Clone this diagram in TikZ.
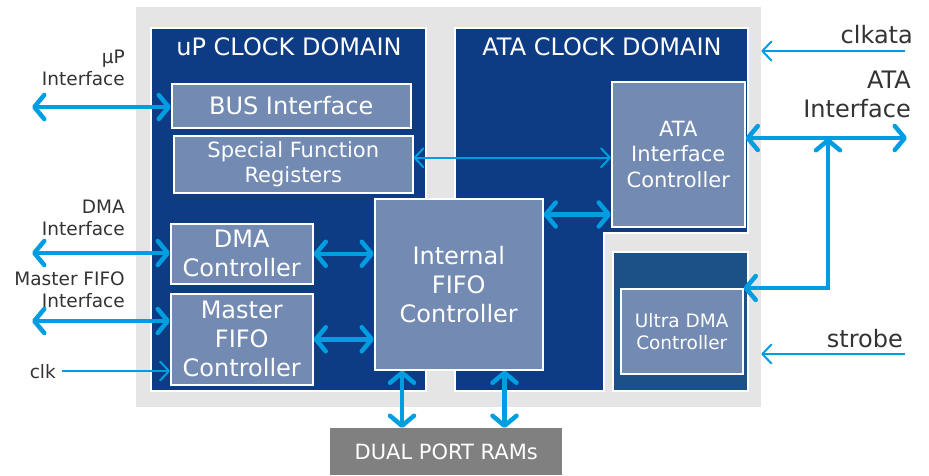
\documentclass[tikz,border=0pt]{standalone}
\usepackage{fontspec}
\setmainfont{DejaVu Sans}
\usepackage{xcolor}
\usetikzlibrary{arrows.meta}
\definecolor{domblue}{RGB}{14,60,132}
\definecolor{udmablue}{RGB}{26,82,136}
\definecolor{blockblue}{RGB}{115,138,178}
\definecolor{wire}{RGB}{0,158,224}
\definecolor{chipgray}{RGB}{229,229,229}
\definecolor{ramgray}{RGB}{128,128,128}
\definecolor{lbltext}{RGB}{51,51,51}
\def\bigfont{\fontsize{24}{29}\selectfont}
\def\midfont{\fontsize{21}{25.5}\selectfont}
\def\smallfont{\fontsize{18.5}{22}\selectfont}
\tikzset{
	dom/.style={draw=white, line width=2pt, fill=domblue},
	block/.style={draw=white, line width=1.5pt, fill=blockblue, text=white, align=center, inner sep=0pt, anchor=north west},
	domtitle/.style={text=white, font=\bigfont, inner sep=0pt, anchor=base},
	lbl/.style={text=lbltext, font=\smallfont, inner sep=0pt, anchor=base east, align=right},
	fat/.style={draw=wire, line width=4.5pt, >={Straight Barb[length=10pt,width=24pt,round]}},
	slim/.style={draw=wire, line width=2pt, >={Straight Barb[length=9pt,width=19pt,round]}}
}
\begin{document}
\begin{tikzpicture}[x=1pt, y=-1pt]
	\useasboundingbox (0,0) rectangle (929,475);
	\node[fill=chipgray, inner sep=0pt, minimum width=625pt, minimum height=400pt, anchor=north west] (chip) at (136,7) {};
	\draw[dom] (151,28) rectangle (426,391);
	\draw[dom] (455,28) -- (748,28) -- (748,233) -- (604,233) -- (604,391) -- (455,391) -- cycle;
	\draw[dom, fill=udmablue] (613,252) rectangle (748,391);
	\node[domtitle] (uptitle) at (289,55) {uP CLOCK DOMAIN};
	\node[domtitle] (atatitle) at (602,55) {ATA CLOCK DOMAIN};
	\node[block, minimum width=239pt, minimum height=44pt, font=\bigfont] (bus) at (171,83) {BUS Interface};
	\node[block, minimum width=239pt, minimum height=57pt, font=\midfont] (sfr) at (173,135) {Special Function\\Registers};
	\node[block, minimum width=142pt, minimum height=60pt, font=\bigfont] (dma) at (170,223) {DMA\\Controller};
	\node[block, minimum width=142pt, minimum height=91pt, font=\bigfont] (mfifo) at (170,293) {Master\\FIFO\\Controller};
	\node[block, minimum width=168pt, minimum height=171pt, font=\bigfont] (ififo) at (374,198) {Internal\\FIFO\\Controller};
	\node[block, minimum width=133pt, minimum height=145pt, font=\midfont] (ata) at (611,81) {ATA\\Interface\\Controller};
	\node[block, minimum width=122pt, minimum height=85pt, font=\smallfont] (udma) at (620,288) {Ultra DMA\\Controller};
	\node[fill=ramgray, text=white, font=\midfont, inner sep=0pt, minimum width=232pt, minimum height=47pt, anchor=north west] (ram) at (330,428) {DUAL PORT RAMs};
	\node[lbl] (uplbl) at (125,85) {µP\\Interface};
	\node[lbl] (dmalbl) at (125,235) {DMA\\Interface};
	\node[lbl] (mflbl) at (125,307) {Master FIFO\\Interface};
	\node[lbl] (clklbl) at (56,378) {clk};
	\node[lbl, font=\bigfont] (clkalbl) at (913,43) {clkata};
	\node[lbl, font=\bigfont] (atalbl) at (911,117) {ATA\\Interface};
	\node[lbl, font=\bigfont] (strlbl) at (903,347) {strobe};
	\coordinate (upend) at (32,107);
	\coordinate (dmaend) at (32,253);
	\coordinate (mfend) at (32,321);
	\coordinate (clkend) at (62,371);
	\coordinate (ataend) at (907,138);
	\coordinate (branch) at (828,138);
	\coordinate (clkaend) at (905,51);
	\coordinate (strend) at (905,354);
	\draw[fat, <->] (upend) -- (upend -| bus.west);
	\draw[fat, <->] (dmaend) -- (dmaend -| dma.west);
	\draw[fat, <->] (mfend) -- (mfend -| mfifo.west);
	\draw[fat, <->] (dma.east) -- (dma.east -| ififo.west);
	\draw[fat, <->] (mfifo.east) -- (mfifo.east -| ififo.west);
	\draw[fat, <->] ([xshift=28pt]ififo.south west) -- ([xshift=28pt]ififo.south west |- ram.north);
	\draw[fat, <->] ([xshift=-39pt]ififo.south east) -- ([xshift=-39pt]ififo.south east |- ram.north);
	\draw[fat, <->] ([yshift=13pt]ata.south west) -- ([yshift=13pt]ata.south west -| ififo.east);
	\draw[fat, <->] (ataend -| ata.east) -- (ataend);
	\draw[fat, <->] (udma.north east) -| (branch);
	\draw[slim, <->] ([yshift=6.5pt]sfr.east) -- ([yshift=6.5pt]sfr.east -| ata.west);
	\draw[slim, ->] (clkaend) -- (clkaend -| chip.east);
	\draw[slim, ->] (strend) -- (strend -| chip.east);
	\draw[slim, ->] (clkend) -- (clkend -| mfifo.west);
\end{tikzpicture}
\end{document}
